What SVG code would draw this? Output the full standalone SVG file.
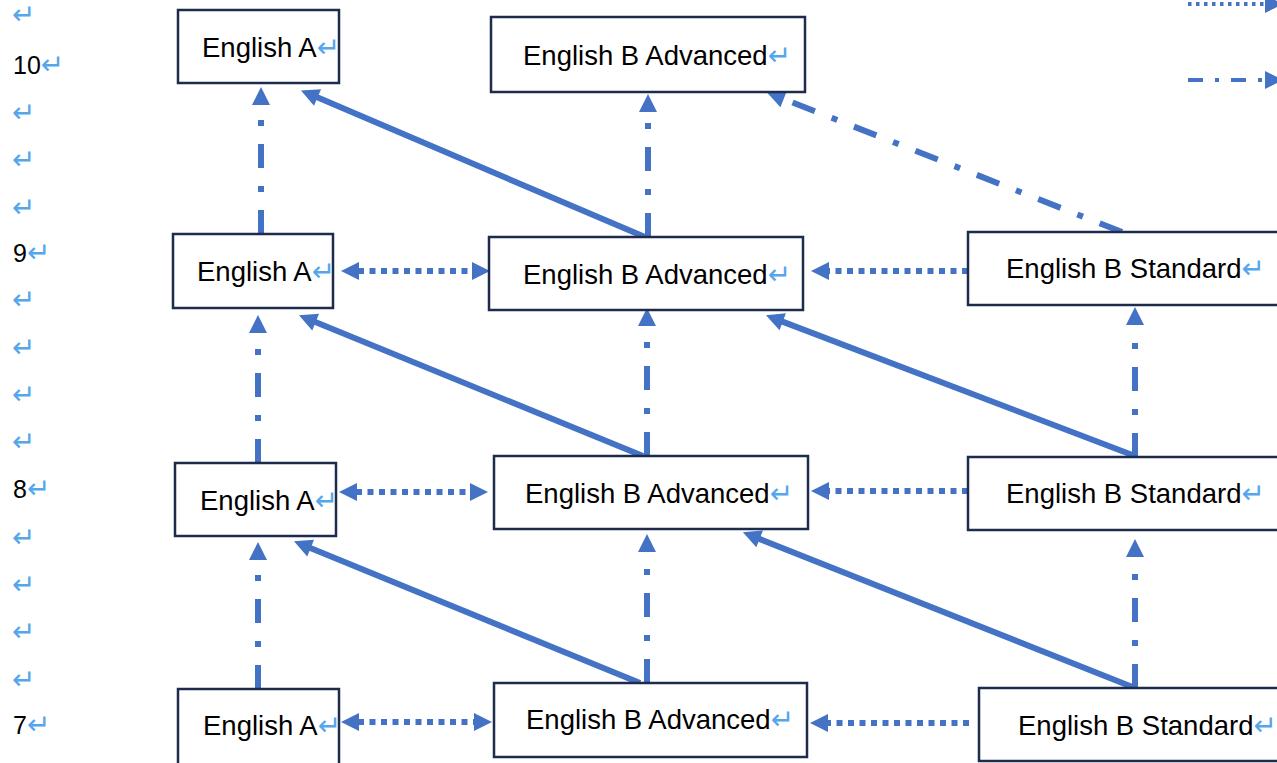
<svg xmlns="http://www.w3.org/2000/svg" width="1277" height="763" viewBox="0 0 1277 763">
<style>
.box{fill:#fff;stroke:#1d2b4c;stroke-width:2.5}
.t{font-family:"Liberation Sans",Arial,sans-serif;font-size:27.5px;fill:#000}
.r{font-family:"DejaVu Sans",sans-serif;font-size:28px;fill:#56a6ec}
.num{font-family:"Liberation Sans",Arial,sans-serif;font-size:25px;fill:#000}
.c{fill:none;stroke:#4472c4;stroke-width:6}
.solid{marker-end:url(#ah)}
.dd{stroke-dasharray:24 18 6 18;marker-end:url(#ah)}
.dot{stroke-dasharray:6 5.5;marker-end:url(#ah)}
.dot2{stroke-dasharray:6 5.5;marker-end:url(#ah);marker-start:url(#ah)}
</style>
<defs>
<marker id="ah" markerUnits="userSpaceOnUse" markerWidth="20" markerHeight="20" refX="1" refY="0" orient="auto-start-reverse" overflow="visible">
<path d="M0,-9 L18,0 L0,9 z" fill="#4472c4"/>
</marker>
</defs>
<rect width="1277" height="763" fill="#fff"/>

<g id="margin">
<text class="r" x="12" y="24">↵</text>
<text class="num" x="13" y="74">10<tspan class="r">↵</tspan></text>
<text class="r" x="12" y="122">↵</text>
<text class="r" x="12" y="169">↵</text>
<text class="r" x="12" y="217">↵</text>
<text class="num" x="13" y="262">9<tspan class="r">↵</tspan></text>
<text class="r" x="12" y="309">↵</text>
<text class="r" x="12" y="357">↵</text>
<text class="r" x="12" y="404">↵</text>
<text class="r" x="12" y="451">↵</text>
<text class="num" x="13" y="498">8<tspan class="r">↵</tspan></text>
<text class="r" x="12" y="547">↵</text>
<text class="r" x="12" y="594">↵</text>
<text class="r" x="12" y="641">↵</text>
<text class="r" x="12" y="689">↵</text>
<text class="num" x="13" y="734">7<tspan class="r">↵</tspan></text>
</g>

<g id="connectors">
<line class="c dot" x1="1188" y1="4" x2="1266" y2="4" style="stroke-width:4;stroke-dasharray:3.5 4.5"/>
<line class="c dd" x1="1188" y1="80" x2="1266" y2="80" style="stroke-width:4;stroke-dasharray:15 12 4 12"/>

<line class="c dd" x1="261" y1="234" x2="261" y2="104"/>
<line class="c dd" x1="258" y1="463" x2="258" y2="332"/>
<line class="c dd" x1="258" y1="689" x2="258" y2="559"/>
<line class="c dd" x1="648" y1="237" x2="648" y2="111"/>
<line class="c dd" x1="647" y1="456" x2="647" y2="325"/>
<line class="c dd" x1="647" y1="683" x2="647" y2="551"/>
<line class="c dd" x1="1135" y1="457" x2="1135" y2="324"/>
<line class="c dd" x1="1135" y1="688" x2="1135" y2="556"/>
<line class="c dd" x1="1122" y1="232" x2="782.8" y2="98.6"/>

<line class="c solid" x1="645" y1="237" x2="316.6" y2="97.1"/>
<line class="c solid" x1="643" y1="456" x2="314.7" y2="321.8"/>
<line class="c solid" x1="640" y1="683" x2="309.7" y2="547.8"/>
<line class="c solid" x1="1135" y1="456" x2="781.8" y2="321.4"/>
<line class="c solid" x1="1135" y1="688" x2="758.7" y2="538.6"/>

<line class="c dot2" x1="358" y1="271" x2="473" y2="271"/>
<line class="c dot" x1="968" y1="271" x2="828" y2="271"/>
<line class="c dot2" x1="356" y1="492" x2="471" y2="492"/>
<line class="c dot" x1="968" y1="491" x2="828" y2="491"/>
<line class="c dot2" x1="358" y1="722" x2="475" y2="722"/>
<line class="c dot" x1="969" y1="723" x2="827" y2="723"/>
</g>

<g id="r10-english-a"><rect class="box" x="178" y="10" width="161" height="73"/><text class="t" x="202" y="57">English A<tspan class="r">↵</tspan></text></g>
<g id="r10-english-b-adv"><rect class="box" x="491" y="17" width="314" height="75"/><text class="t" x="523" y="65">English B Advanced<tspan class="r">↵</tspan></text></g>

<g id="r9-english-a"><rect class="box" x="173" y="234" width="160" height="74"/><text class="t" x="197" y="281">English A<tspan class="r">↵</tspan></text></g>
<g id="r9-english-b-adv"><rect class="box" x="489" y="237" width="314" height="73"/><text class="t" x="523" y="284">English B Advanced<tspan class="r">↵</tspan></text></g>
<g id="r9-english-b-std"><rect class="box" x="968" y="232" width="320" height="73"/><text class="t" x="1006" y="278">English B Standard<tspan class="r">↵</tspan></text></g>

<g id="r8-english-a"><rect class="box" x="175" y="463" width="161" height="73"/><text class="t" x="200" y="510">English A<tspan class="r">↵</tspan></text></g>
<g id="r8-english-b-adv"><rect class="box" x="494" y="456" width="314" height="73"/><text class="t" x="525" y="503">English B Advanced<tspan class="r">↵</tspan></text></g>
<g id="r8-english-b-std"><rect class="box" x="968" y="457" width="320" height="73"/><text class="t" x="1006" y="503">English B Standard<tspan class="r">↵</tspan></text></g>

<g id="r7-english-a"><rect class="box" x="178" y="689" width="161" height="80"/><text class="t" x="203" y="735">English A<tspan class="r">↵</tspan></text></g>
<g id="r7-english-b-adv"><rect class="box" x="494" y="683" width="313" height="74"/><text class="t" x="526" y="729">English B Advanced<tspan class="r">↵</tspan></text></g>
<g id="r7-english-b-std"><rect class="box" x="979" y="688" width="310" height="73"/><text class="t" x="1018" y="735">English B Standard<tspan class="r">↵</tspan></text></g>
</svg>
